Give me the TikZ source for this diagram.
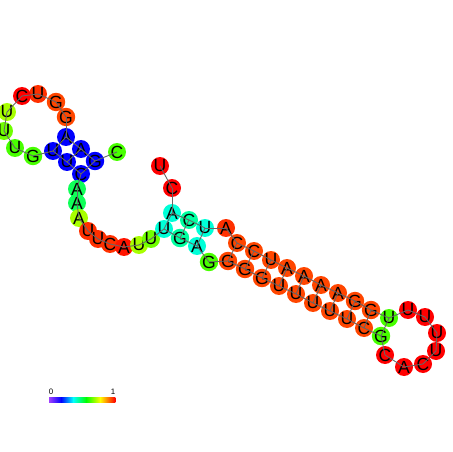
\documentclass[tikz,border=0pt]{standalone}
\usepackage{fontspec}
\setmainfont{Liberation Sans}
\definecolor{ntred}{HTML}{FF0000}
\definecolor{ntredb}{HTML}{FF1400}
\definecolor{ntorng}{HTML}{FF4600}
\definecolor{ntorngb}{HTML}{FF3000}
\definecolor{ntlime}{HTML}{48FF00}
\definecolor{ntlgrn}{HTML}{70FF00}
\definecolor{ntygrn}{HTML}{A8FF00}
\definecolor{ntsgrn}{HTML}{10FF58}
\definecolor{ntmint}{HTML}{00FFA0}
\definecolor{ntturq}{HTML}{00FFD8}
\definecolor{ntblue}{HTML}{0000FF}
\definecolor{ntviol}{HTML}{A040FF}

\begin{document}
\begin{tikzpicture}[x=0.02cm,y=-0.02cm,
  nt/.style={circle,inner sep=0pt,minimum size=0.36cm,font=\fontsize{10}{10}\selectfont},
  bb/.style={draw=black!60,line width=0.5pt}]
\useasboundingbox (0,0) rectangle (452,452);
% left hairpin
\node[nt,fill=ntlime] (n1) at (117,152) {C};
\node[nt,fill=ntblue] (n2) at (95,161) {G};
\node[nt,fill=ntblue] (n3) at (81,149) {A};
\node[nt,fill=ntblue] (n4) at (66,137) {A};
\node[nt,fill=ntorng] (n5) at (66,117) {G};
\node[nt,fill=ntorng] (n6) at (56,102) {G};
\node[nt,fill=ntorngb] (n7) at (38,94) {U};
\node[nt,fill=ntred] (n8) at (22,96) {C};
\node[nt,fill=ntygrn] (n9) at (7,112) {U};
\node[nt,fill=ntlgrn] (n10) at (4,131) {U};
\node[nt,fill=ntlime] (n11) at (15,148) {U};
\node[nt,fill=ntlime] (n12) at (33,156) {G};
\node[nt,fill=ntblue] (n13) at (53,151) {U};
\node[nt,fill=ntblue] (n14) at (67,162) {U};
\node[nt,fill=ntblue] (n15) at (81,174) {C};
% linker
\node[nt,fill=ntsgrn] (n16) at (77,189) {A};
\node[nt,fill=ntsgrn] (n17) at (77,203) {A};
\node[nt,fill=ntygrn] (n18) at (79,218) {A};
\node[nt,fill=ntorngb] (n19) at (88,231) {U};
\node[nt,fill=ntorngb] (n20) at (98,239) {U};
\node[nt,fill=ntorngb] (n21) at (110,244) {C};
\node[nt,fill=ntredb] (n22) at (124,247) {A};
\node[nt,fill=ntygrn] (n23) at (139,245) {U};
\node[nt,fill=ntlgrn] (n24) at (151,239) {U};
% short stem
\node[nt,fill=ntturq] (n25) at (164,229) {U};
\node[nt,fill=ntmint] (n26) at (180,238) {G};
\node[nt,fill=ntturq] (n27) at (197,246) {A};
\node[nt,fill=ntlime] (n28) at (209,262) {G};
% long stem, lower strand
\node[nt,fill=ntorng] (n29) at (228,261) {G};
\node[nt,fill=ntorng] (n30) at (245,269) {G};
\node[nt,fill=ntorng] (n31) at (262,278) {G};
\node[nt,fill=ntorng] (n32) at (279,286) {U};
\node[nt,fill=ntorng] (n33) at (296,294) {U};
\node[nt,fill=ntorng] (n34) at (313,303) {U};
\node[nt,fill=ntorng] (n35) at (330,311) {U};
\node[nt,fill=ntorng] (n36) at (347,319) {U};
\node[nt,fill=ntorng] (n37) at (364,328) {C};
\node[nt,fill=ntlime] (n38) at (381,336) {G};
% right hairpin loop
\node[nt,fill=ntred] (n39) at (385,355) {C};
\node[nt,fill=ntred] (n40) at (404,367) {A};
\node[nt,fill=ntred] (n41) at (423,364) {C};
\node[nt,fill=ntred] (n42) at (436,351) {U};
\node[nt,fill=ntred] (n43) at (437,333) {U};
\node[nt,fill=ntred] (n44) at (425,317) {U};
\node[nt,fill=ntred] (n45) at (408,310) {U};
\node[nt,fill=ntlime] (n46) at (389,318) {U};
% long stem, upper strand
\node[nt,fill=ntorng] (n47) at (371,310) {G};
\node[nt,fill=ntorng] (n48) at (355,301) {G};
\node[nt,fill=ntorng] (n49) at (338,293) {A};
\node[nt,fill=ntorng] (n50) at (321,285) {A};
\node[nt,fill=ntorng] (n51) at (304,276) {A};
\node[nt,fill=ntorng] (n52) at (287,268) {A};
\node[nt,fill=ntorng] (n53) at (271,260) {U};
\node[nt,fill=ntorng] (n54) at (254,251) {C};
\node[nt,fill=ntorng] (n55) at (237,243) {C};
\node[nt,fill=ntorngb] (n56) at (226,228) {A};
\node[nt,fill=ntturq] (n57) at (205,228) {U};
\node[nt,fill=ntmint] (n58) at (189,220) {C};
\node[nt,fill=ntturq] (n59) at (172,213) {A};
\node[nt,fill=ntred] (n60) at (172,188) {C};
\node[nt,fill=ntred] (n61) at (160,166) {U};
% backbone
\foreach \i [evaluate=\i as \j using int(\i+1)] in {1,...,60}
  \draw[bb] (n\i.center) -- (n\j.center);
% base pairs
\foreach \i/\j in {2/15,3/14,4/13,25/59,26/58,27/57,29/55,30/54,31/53,32/52,33/51,34/50,35/49,36/48,37/47,38/46}
  \draw[bb] (n\i.center) -- (n\j.center);
% colour bar
\foreach \xa/\xb/\ca/\cb in {49/61/ntviol/ntblue,61/73/ntblue/cyan,73/86/cyan/green,86/100/green/yellow,100/115/yellow/red}
  \shade[left color=\ca,right color=\cb] (\xa,397) rectangle (\xb+0.3,402.5);
\node[font=\fontsize{4.5}{5}\selectfont,inner sep=0pt] (bar0) at (51,392) {0};
\node[font=\fontsize{4.5}{5}\selectfont,inner sep=0pt] (bar1) at (113,392) {1};
\end{tikzpicture}
\end{document}
